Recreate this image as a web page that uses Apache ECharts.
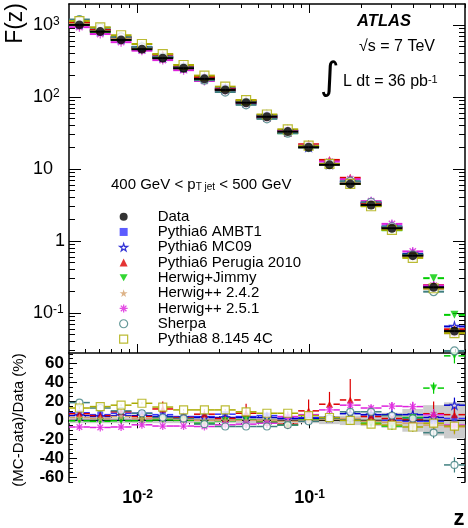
<!DOCTYPE html>
<html>
<head>
<meta charset="utf-8">
<script src="https://cdn.jsdelivr.net/npm/echarts@6/dist/echarts.min.js"></script>
<style>
html, body { margin: 0; padding: 0; background: #fff; }
#chart { width: 468px; height: 528px; }
</style>
</head>
<body>
<div id="chart"></div>
<script>
// z bins, log spaced between 0.004 and 0.8
let zEdges = [0.004, 0.005286, 0.006986, 0.009232, 0.0122, 0.01612, 0.0213, 0.02815, 0.0372, 0.04916,
  0.06497, 0.08586, 0.1135, 0.1499, 0.1981, 0.2618, 0.346, 0.4573, 0.6043, 0.8];
let zCentres = [0.004598, 0.006077, 0.008031, 0.01061, 0.01402, 0.01853, 0.02449, 0.03236, 0.04277, 0.05651,
  0.07469, 0.09871, 0.1305, 0.1723, 0.2277, 0.301, 0.3978, 0.5257, 0.6947];

// measured F(z)
let dataF = [1000, 807, 619, 460, 345, 250, 178, 125, 83, 53, 33, 20, 11.4, 6.2, 3.16, 1.5, 0.625, 0.227, 0.056];
// data uncertainty band in the ratio (%)
let dataBand = [3, 3, 3, 3, 3, 3, 3, 3, 3, 3, 3, 3, 4, 5, 6, 8, 12, 16, 19];

// (MC-Data)/Data in %
let rAMBT1 = [8, 6, 7.5, 7.5, 6, 4, 4, 6.5, 4, 5, 2, 3, 2, 1, 6, 0, -1, -1, 2];
let rMC09 = [5, 4, 5, 5, 4, 3, 3, 3, 3, 3, 2, 2, 3, 7, 6, 6, 6, 3, 16];
let rPerugia = [7, 5, 9, 4, 12, 3, 6.5, 2, 7.5, -2, -4, 10, 17, 21.5, 4, 2, 1, 7, 6];
let rJimmy = [-0.5, -1, -0.5, -0.5, 0.5, 0, -3, -0.5, 0.5, -2, -5, 0.5, 2, 0, -3, -6, 3, 34, 68];
let rH242 = [3, 2, 4, 2, 2, 1, 0, 0, 0, 0, -1, 0, 1, 2, -1, -2, -3, -5, -7];
let rH251 = [-7, -7.5, -7, -4.7, -6, -6, -6.5, -4.7, -4, -3, 4, 6, 11, 16, 13, 15, 14.5, 6, -5];
let rSherpa = [18.7, 13, 10, 7.5, 3, 2, -4, -6.5, -6.5, -6.5, -5, -1, 2, 9, 9, 5, 2, -13, -47];
let rPythia8 = [13, 14.5, 16, 18, 14, 11, 11, 11, 9, 7.5, 7.5, 5, 3, 0, -4, -5, -7, -3, -6];

// MC statistical errors in the ratio (%)
let mcErr = [1, 1, 1, 1, 1, 1, 1, 1, 1.5, 1.5, 2, 2, 2, 3, 3, 4, 5, 6, 8];
let ePerugia = [2, 2, 3, 3, 8, 3, 4, 4, 10, 4, 5, 12, 13, 22, 6, 6, 8, 13, 10];

// ticks
let xMajor = [0.01, 0.1];
let xMinor = [0.005, 0.006, 0.007, 0.008, 0.009, 0.02, 0.03, 0.04, 0.05, 0.06, 0.07, 0.08, 0.09,
  0.2, 0.3, 0.4, 0.5, 0.6, 0.7, 0.8];
let yMajor = [0.1, 1, 10, 100, 1000];
let yMinor = [0.03, 0.04, 0.05, 0.06, 0.07, 0.08, 0.09, 0.2, 0.3, 0.4, 0.5, 0.6, 0.7, 0.8, 0.9,
  2, 3, 4, 5, 6, 7, 8, 9, 20, 30, 40, 50, 60, 70, 80, 90, 200, 300, 400, 500, 600, 700, 800, 900];
let rMajor = [-60, -40, -20, 0, 20, 40, 60];
let rMinor = [-65, -55, -50, -45, -35, -30, -25, -15, -10, -5, 5, 10, 15, 25, 30, 35, 45, 50, 55, 65, 70];

const FONT = "'Liberation Sans', Arial, sans-serif";
const STAR = 'path://M50,0 L61,35 L98,35 L68,57 L79,91 L50,70 L21,91 L32,57 L2,35 L39,35 Z';
const DOWN = 'path://M0,0 L100,0 L50,87 Z';
const ASTER = 'path://M0,50 L100,50 M50,0 L50,100 M15,15 L85,85 M85,15 L15,85';

let mcList = [
  {name: 'Pythia6 AMBT1', ratio: rAMBT1, err: mcErr, color: '#3333ff', symbol: 'rect', size: 7,
    item: {color: '#3333ff'}},
  {name: 'Pythia6 MC09', ratio: rMC09, err: mcErr, color: '#0000cc', symbol: STAR, size: 9,
    item: {color: '#fff', borderColor: '#0000cc', borderWidth: 1.2}},
  {name: 'Pythia6 Perugia 2010', ratio: rPerugia, err: ePerugia, color: '#dd0000', symbol: 'triangle', size: 8,
    item: {color: '#dd0000'}},
  {name: 'Herwig+Jimmy', ratio: rJimmy, err: mcErr, color: '#00cc00', symbol: DOWN, size: 8,
    item: {color: '#00cc00'}},
  {name: 'Herwig++ 2.4.2', ratio: rH242, err: mcErr, color: '#d4a06a', symbol: STAR, size: 9,
    item: {color: '#d4a06a'}},
  {name: 'Herwig++ 2.5.1', ratio: rH251, err: mcErr, color: '#dd22dd', symbol: ASTER, size: 9,
    item: {color: '#dd22dd', borderColor: '#dd22dd', borderWidth: 1.3}},
  {name: 'Sherpa', ratio: rSherpa, err: mcErr, color: '#3f7f7f', symbol: 'circle', size: 8,
    item: {color: '#fff', borderColor: '#3f7f7f', borderWidth: 1.2}},
  {name: 'Pythia8 8.145 4C', ratio: rPythia8, err: mcErr, color: '#aaaa00', symbol: 'rect', size: 9,
    item: {color: '#fff', borderColor: '#aaaa00', borderWidth: 1.2}}
];

function tickAxis(grid, pos, type, min, max, values, len, showLine) {
  let ax = {
    type: type, gridIndex: grid, position: pos, min: min, max: max,
    axisLine: {show: showLine, lineStyle: {color: '#000', width: 1.5}},
    axisTick: {show: true, inside: true, length: len, customValues: values, lineStyle: {color: '#000', width: 1}},
    axisLabel: {show: false},
    splitLine: {show: false}
  };
  if (type === 'log') ax.logBase = 10;
  return ax;
}

// x axes: 0-3 top panel, 4-7 ratio panel
let xAxes = [];
[0, 1].forEach(function (g) {
  xAxes.push(tickAxis(g, 'bottom', 'log', 0.004, 0.8, xMajor, g === 0 ? 9 : 8, true));
  xAxes.push(tickAxis(g, 'bottom', 'log', 0.004, 0.8, xMinor, 4, false));
  xAxes.push(tickAxis(g, 'top', 'log', 0.004, 0.8, xMajor, g === 0 ? 9 : 8, true));
  xAxes.push(tickAxis(g, 'top', 'log', 0.004, 0.8, xMinor, 4, false));
});
xAxes[4].axisLabel = {
  show: true, customValues: xMajor, margin: 7,
  formatter: function (v) {
    return '{b|10}{s|' + Math.round(Math.log10(v)) + '}';
  },
  rich: {
    b: {fontFamily: FONT, fontSize: 18, fontWeight: 'bold', color: '#000', verticalAlign: 'bottom'},
    s: {fontFamily: FONT, fontSize: 12, fontWeight: 'bold', color: '#000', verticalAlign: 'top'}
  }
};

// y axes: 0-3 top panel (log), 4-7 ratio panel
let yAxes = [];
yAxes.push(tickAxis(0, 'left', 'log', 0.0278, 1950, yMajor, 12, true));
yAxes.push(tickAxis(0, 'left', 'log', 0.0278, 1950, yMinor, 6, false));
yAxes.push(tickAxis(0, 'right', 'log', 0.0278, 1950, yMajor, 12, true));
yAxes.push(tickAxis(0, 'right', 'log', 0.0278, 1950, yMinor, 6, false));
yAxes.push(tickAxis(1, 'left', 'value', -65, 71, rMajor, 8, true));
yAxes.push(tickAxis(1, 'left', 'value', -65, 71, rMinor, 4, false));
yAxes.push(tickAxis(1, 'right', 'value', -65, 71, rMajor, 8, true));
yAxes.push(tickAxis(1, 'right', 'value', -65, 71, rMinor, 4, false));

yAxes[0].axisLabel = {
  show: true, customValues: yMajor, margin: 36, align: 'left',
  formatter: function (v) {
    let e = Math.round(Math.log10(v));
    if (e === 0) return '{p|1}';
    if (e === 1) return '{b|10}';
    return '{b|10}{s|' + e + '}';
  },
  rich: {
    b: {fontFamily: FONT, fontSize: 18, color: '#000', verticalAlign: 'bottom'},
    p: {fontFamily: FONT, fontSize: 18, color: '#000', padding: [0, 0, 0, 22]},
    s: {fontFamily: FONT, fontSize: 12, color: '#000', verticalAlign: 'top'}
  }
};
yAxes[4].axisLabel = {
  show: true, customValues: rMajor, margin: 5,
  fontFamily: FONT, fontSize: 17, fontWeight: 'bold', color: '#000'
};

// horizontal (bin width) bars with a gap at the marker, plus vertical error bars
function barSeries(grid, values, errs, color, width, gap, z) {
  let rows = values.map(function (v, i) {
    return [zEdges[i], zEdges[i + 1], v, zCentres[i], errs ? errs[i] : 0];
  });
  return {
    type: 'custom', xAxisIndex: grid * 4, yAxisIndex: grid * 4, clip: true, silent: true, z: z,
    encode: {x: [0, 1, 3], y: 2},
    data: rows,
    renderItem: function (params, api) {
      let v = api.value(2);
      let a = api.coord([api.value(0), v]);
      let b = api.coord([api.value(1), v]);
      let c = api.coord([api.value(3), v]);
      let st = {stroke: color, lineWidth: width};
      let kids = [
        {type: 'line', shape: {x1: a[0], y1: a[1], x2: c[0] - gap, y2: c[1]}, style: st},
        {type: 'line', shape: {x1: c[0] + gap, y1: c[1], x2: b[0], y2: b[1]}, style: st}
      ];
      let e = api.value(4);
      if (e > 0) {
        let lo = api.coord([api.value(3), v - e]);
        let hi = api.coord([api.value(3), v + e]);
        kids.push({type: 'line', shape: {x1: lo[0], y1: lo[1], x2: hi[0], y2: hi[1]}, style: {stroke: color, lineWidth: 1.2}});
      }
      return {type: 'group', children: kids};
    }
  };
}

let series = [];

// ratio band for data
series.push({
  type: 'custom', xAxisIndex: 4, yAxisIndex: 4, clip: true, silent: true, z: 1,
  encode: {x: [0, 1], y: 2},
  data: dataBand.map(function (e, i) { return [zEdges[i], zEdges[i + 1], e]; }),
  renderItem: function (params, api) {
    let p1 = api.coord([api.value(0), api.value(2)]);
    let p2 = api.coord([api.value(1), -api.value(2)]);
    return {type: 'rect', shape: {x: p1[0], y: p1[1], width: p2[0] - p1[0], height: p2[1] - p1[1]},
      style: {fill: '#cccccc'}};
  }
});
series.push(barSeries(1, dataF.map(function () { return 0; }), null, '#000', 1.2, 0, 2));

mcList.forEach(function (mc) {
  let topVals = dataF.map(function (f, i) { return f * (1 + mc.ratio[i] / 100); });
  series.push(barSeries(0, topVals, null, mc.color, 2, 4, 3));
  series.push({
    type: 'scatter', name: mc.name, xAxisIndex: 0, yAxisIndex: 0, z: 4,
    symbol: mc.symbol, symbolSize: mc.size, itemStyle: mc.item,
    data: topVals.map(function (v, i) { return [zCentres[i], v]; })
  });
  series.push(barSeries(1, mc.ratio, mc.err, mc.color, 1.5, 4, 3));
  series.push({
    type: 'scatter', name: mc.name, xAxisIndex: 4, yAxisIndex: 4, z: 4,
    symbol: mc.symbol, symbolSize: mc.size - 1, itemStyle: mc.item,
    data: mc.ratio.map(function (v, i) { return [zCentres[i], v]; })
  });
});

series.push(barSeries(0, dataF, null, '#000', 2, 0, 5));
series.push({
  type: 'scatter', name: 'Data', xAxisIndex: 0, yAxisIndex: 0, z: 6,
  symbol: 'circle', symbolSize: 9, itemStyle: {color: '#000'},
  data: dataF.map(function (v, i) { return [zCentres[i], v]; })
});

let legendData = [{name: 'Data', icon: 'circle', itemStyle: {color: '#000'}}].concat(mcList.map(function (m) {
  return {name: m.name, icon: m.symbol, itemStyle: m.item};
}));

let txt = function (x, y, text, size, extra) {
  return {type: 'text', x: x, y: y, style: Object.assign({text: text, fontFamily: FONT, fontSize: size, fill: '#000'}, extra || {})};
};

let option = {
  animation: false,
  backgroundColor: '#fff',
  grid: [
    {left: 69, right: 3, top: 4, height: 349},
    {left: 69, right: 3, top: 353, height: 129}
  ],
  xAxis: xAxes,
  yAxis: yAxes,
  legend: {
    data: legendData, orient: 'vertical', left: 114, top: 204, selectedMode: false,
    itemWidth: 8, itemHeight: 8, itemGap: 0,
    textStyle: {fontFamily: FONT, fontSize: 15, color: '#000', lineHeight: 15.3, padding: [0, 0, 0, 25]}
  },
  graphic: [
    Object.assign(txt(16, 3, 'F(z)', 23, {align: 'right', verticalAlign: 'middle'}), {rotation: Math.PI / 2}),
    Object.assign(txt(19, 420, '(MC-Data)/Data (%)', 15, {align: 'center', verticalAlign: 'middle'}), {rotation: Math.PI / 2}),
    txt(459, 519, 'z', 22, {align: 'center', verticalAlign: 'middle', fontWeight: 'bold'}),
    txt(384, 21, 'ATLAS', 16.5, {align: 'center', verticalAlign: 'middle', fontWeight: 'bold', fontStyle: 'italic'}),
    txt(397, 47, '\u221As = 7 TeV', 16, {align: 'center', verticalAlign: 'middle'}),
    txt(330, 79, '\u222B', 38, {align: 'center', verticalAlign: 'middle', fontFamily: 'DejaVu Sans'}),
    txt(343, 82, '{b|L dt = 36 pb}{s|-1}', 16, {verticalAlign: 'middle', rich: {
      b: {fontFamily: FONT, fontSize: 16, fill: '#000', verticalAlign: 'bottom'},
      s: {fontFamily: FONT, fontSize: 11, fill: '#000', verticalAlign: 'top'}}}),
    txt(111, 185, '{b|400 GeV < p}{s|T jet}{b| < 500 GeV}', 15, {verticalAlign: 'middle', rich: {
      b: {fontFamily: FONT, fontSize: 15, fill: '#000', verticalAlign: 'top'},
      s: {fontFamily: FONT, fontSize: 10, fill: '#000', verticalAlign: 'bottom'}}})
  ],
  series: series
};

let chart = echarts.init(document.getElementById('chart'));
chart.setOption(option);
</script>
</body>
</html>
